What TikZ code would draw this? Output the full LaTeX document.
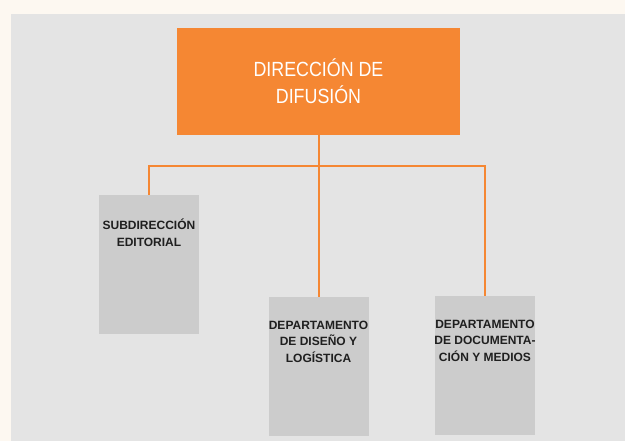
\documentclass[tikz,border=0pt]{standalone}
\usepackage{fontspec}
\setmainfont{Liberation Sans}
\newfontfamily\narrowfont[FakeStretch=0.87]{Liberation Sans}
\usetikzlibrary{positioning}
\definecolor{cream}{HTML}{FDF8F1}
\definecolor{panel}{HTML}{E4E4E4}
\definecolor{boxgray}{HTML}{CCCCCC}
\definecolor{difus}{HTML}{F58733}
\tikzset{
  headbox/.style={fill=difus,minimum width=283pt,minimum height=107pt,
    inner sep=0pt,text=white,align=center,
    font=\narrowfont\fontsize{20.5}{26.7}\selectfont},
  deptbox/.style={fill=boxgray,minimum width=100pt,minimum height=139pt,
    inner sep=0pt},
  deptlbl/.style={anchor=north,inner sep=0pt,align=center,text=black!88,
    font=\bfseries\fontsize{12}{16.5}\selectfont,yshift=-24pt,
    execute at begin node={\rule{0pt}{10.5pt}}},
  orgline/.style={draw=difus,line width=2pt},
}
\begin{document}
\begin{tikzpicture}[x=1pt,y=-1pt]
  \useasboundingbox (0,0) rectangle (625,441);
  \fill[cream] (0,0) rectangle (625,441);
  \fill[panel] (11,14) rectangle (625,441);
  % cabecera
  \node[headbox] (dir) at (318.5,81.3) {DIRECCIÓN DE\\DIFUSIÓN};
  % departamentos
  \node[deptbox,label={[deptlbl]north:{SUBDIRECCIÓN\\EDITORIAL}}]
    (sub) at (149,264.5) {};
  \node[deptbox,label={[deptlbl]north:{DEPARTAMENTO\\DE DISEÑO Y\\LOGÍSTICA}}]
    (dis) at (318.5,366.4) {};
  \node[deptbox,label={[deptlbl]north:{DEPARTAMENTO\\DE DOCUMENTA-\\CIÓN Y MEDIOS}}]
    (doc) at (485,365.3) {};
  % lineas
  \coordinate (bus) at (318.5,166);
  \draw[orgline] (dir.south) -- (dis.north);
  \draw[orgline] (sub.north) |- (bus) -| (doc.north);
\end{tikzpicture}
\end{document}
